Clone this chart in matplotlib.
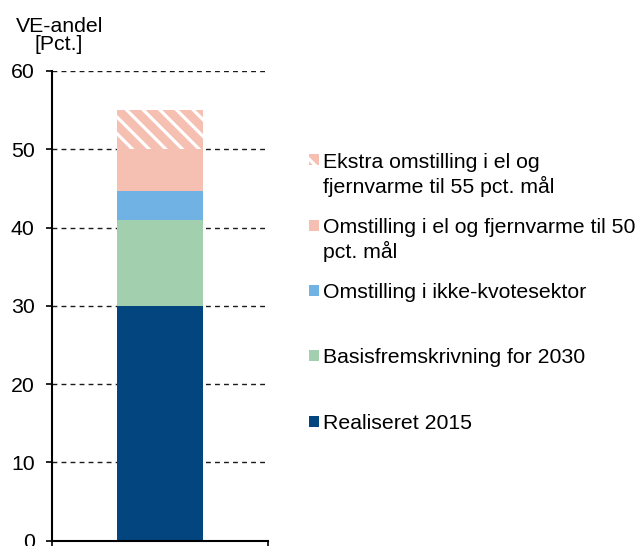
import matplotlib
matplotlib.use("Agg")
import matplotlib.pyplot as plt
from matplotlib.patches import Rectangle

plt.rcParams['font.family'] = ['Liberation Sans', 'DejaVu Sans']
plt.rcParams['hatch.linewidth'] = 2.3

# Data
category = [""]
series_names = [
    "Realiseret 2015",
    "Basisfremskrivning for 2030",
    "Omstilling i ikke-kvotesektor",
    "Omstilling i el og fjernvarme til 50\npct. mål",
    "Ekstra omstilling i el og\nfjernvarme til 55 pct. mål",
]
series_values = [30.0, 11.0, 3.7, 5.3, 5.0]
colors = ["#02457f", "#a2cfae", "#71b2e4", "#f5c0b1", "#f5c0b1"]
hatches = [None, None, None, None, "\\\\"]
yticks = [0, 10, 20, 30, 40, 50, 60]

W, H = 640, 546
FS = 15.3
fig = plt.figure(figsize=(W / 100, H / 100), dpi=100)

def fx(px):
    return px / W

def fy(py):
    return 1 - py / H

ax = fig.add_axes([fx(52), fy(540.5), fx(268) - fx(52), fy(71) - fy(540.5)])

bottom = 0.0
for val, col, h in zip(series_values, colors, hatches):
    if h:
        ax.bar(0, val, width=0.4, bottom=bottom, color=col, edgecolor="white",
               linewidth=0, hatch=h, zorder=2)
    else:
        ax.bar(0, val, width=0.4, bottom=bottom, color=col, linewidth=0, zorder=2)
    bottom += val

ax.set_xlim(-0.5, 0.5)
ax.set_ylim(0, 60)
ax.set_yticks(yticks)
ax.set_yticklabels([str(t) for t in yticks], fontsize=FS)
ax.set_xticks([-0.5, 0.5])
ax.set_xticklabels(["", ""])
ax.tick_params(axis='y', direction='out', length=4.5, width=1.2, pad=8)
ax.tick_params(axis='x', direction='out', length=4.5, width=1.2)
for t in ax.get_xticklines():
    t.set_clip_on(False)
ax.yaxis.grid(True, linestyle=(0, (3.5, 3.0)), color="#1a1a1a", linewidth=1, zorder=1)
ax.set_axisbelow(True)
for s in ["top", "right"]:
    ax.spines[s].set_visible(False)
ax.spines['left'].set_linewidth(1.5)
ax.spines['bottom'].set_linewidth(1.5)

# y-axis title
fig.text(fx(60), fy(32), "VE-andel", ha='center', va='baseline', fontsize=FS)
fig.text(fx(59), fy(50.5), "[Pct.]", ha='center', va='baseline', fontsize=FS)

# manual legend (top to bottom)
legend_order = [4, 3, 2, 1, 0]
line_baselines = [[167.5, 192.5], [233, 257.5], [298], [363], [429]]
for idx, baselines in zip(legend_order, line_baselines):
    cap_center = baselines[0] - 7.5
    rect = Rectangle((fx(308.5), fy(cap_center + 5)), fx(10.5), fy(0) - fy(10.5),
                     transform=fig.transFigure, facecolor=colors[idx],
                     edgecolor="white" if hatches[idx] else colors[idx],
                     linewidth=0, hatch=hatches[idx])
    fig.patches.append(rect)
    lines = series_names[idx].split("\n")
    for line, b in zip(lines, baselines):
        fig.text(fx(323), fy(b), line, ha='left', va='baseline', fontsize=FS)

fig.savefig("out.png", dpi=100)
